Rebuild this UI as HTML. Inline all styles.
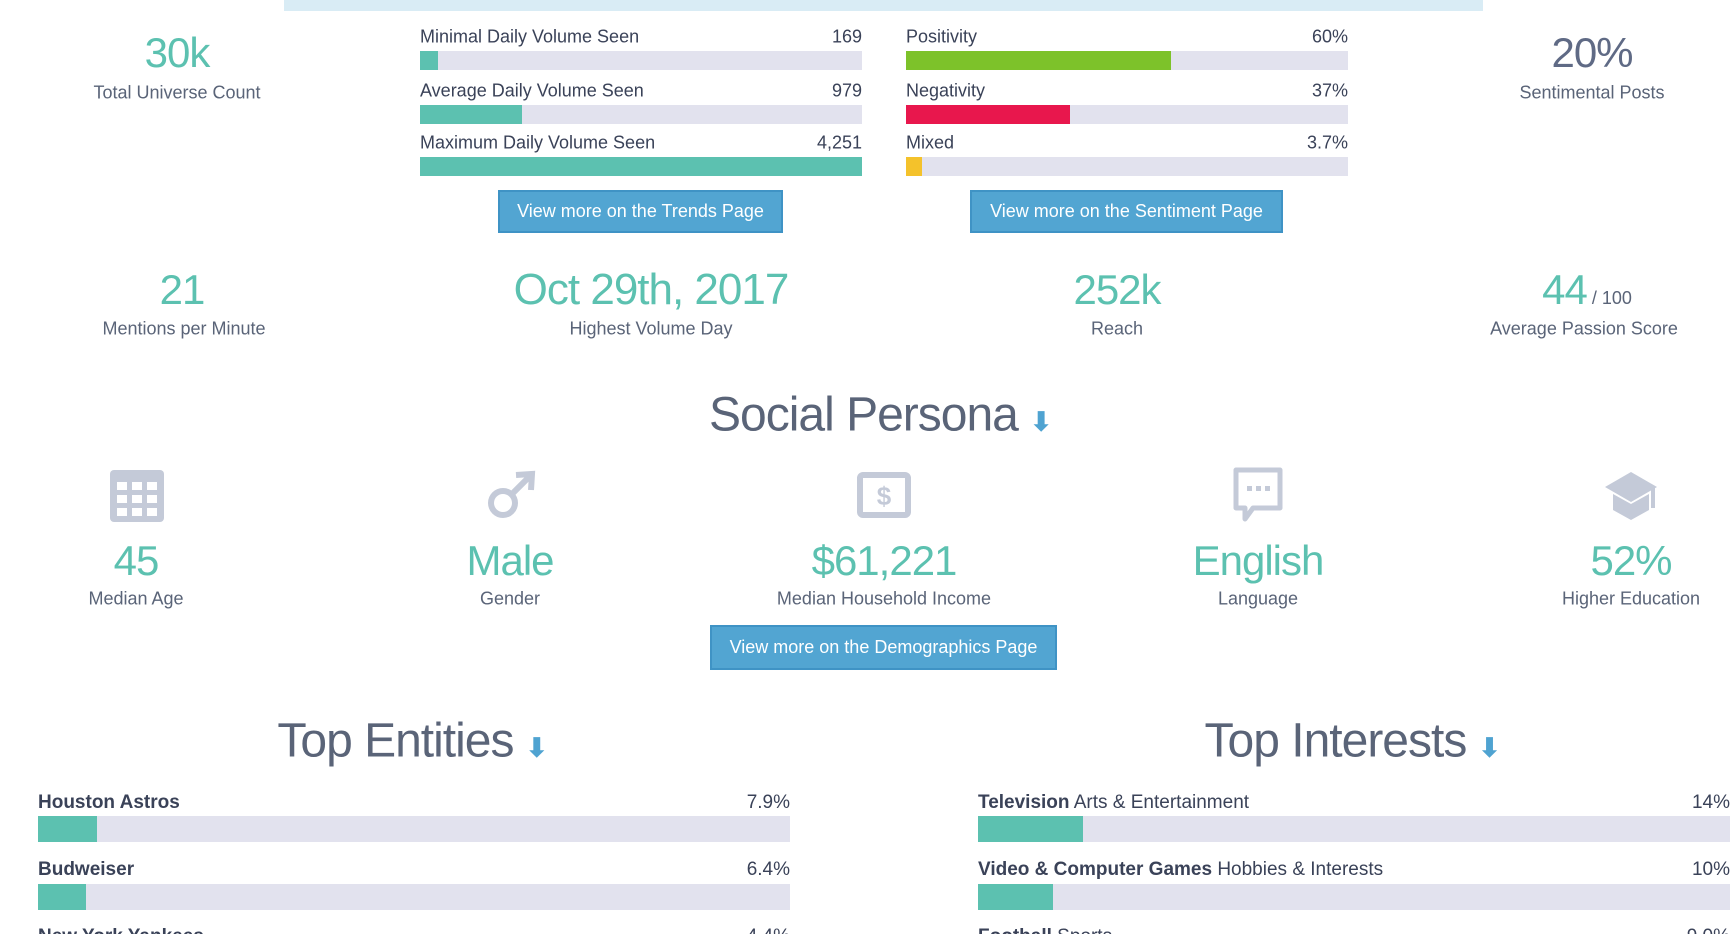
<!DOCTYPE html>
<html style="overflow:hidden;width:1734px;height:934px"><head><meta charset="utf-8"><style>
*{margin:0;padding:0;box-sizing:border-box}
html,body{width:1734px;height:934px;overflow:hidden;background:#fff}
body{font-family:"Liberation Sans",sans-serif;color:#5a6478}
#page{position:relative;width:1734px;height:934px;overflow:hidden}
.c{position:absolute;transform:translate(-50%,-50%);white-space:nowrap;text-align:center}
.big{color:#5cc1b0;font-size:42px;letter-spacing:-1px}
.lab{font-size:18px;color:#5a6478}
.t{position:absolute;white-space:nowrap;font-size:18px;color:#3a4258;transform:translateY(-50%)}
.r{position:absolute;white-space:nowrap;font-size:18px;color:#3a4258;transform:translate(-100%,-50%)}
.track{position:absolute;background:#e2e2ee}
.fill{position:absolute;left:0;top:0;height:100%}
.btn{position:absolute;background:#52a5d2;border:2px solid #3f93c5;color:#fff;font-size:18px;display:flex;align-items:center;justify-content:center}
.title{font-size:48px;font-weight:300;color:#5a6478;letter-spacing:-1px}
.dl{color:#4fa3d1;font-size:26px;font-weight:bold}
</style></head><body>
<div id="page">
<div style="position:absolute;left:284px;top:0;width:1199px;height:11px;background:#d9ecf5"></div>

<div class="c big" style="left:177px;top:53px">30k</div>
<div class="c lab" style="left:177px;top:93px">Total Universe Count</div>
<div class="c big" style="left:1592px;top:53px;color:#5f6a85">20%</div>
<div class="c lab" style="left:1592px;top:93px">Sentimental Posts</div>

<div id="vol"></div>
<div id="sent"></div>

<div class="btn" style="left:498px;top:190px;width:285px;height:43px">View more on the Trends Page</div>
<div class="btn" style="left:970px;top:190px;width:313px;height:43px">View more on the Sentiment Page</div>

<div class="c big" style="left:182px;top:290px">21</div>
<div class="c lab" style="left:184px;top:329px">Mentions per Minute</div>
<div class="c big" style="left:651px;top:290px;font-size:44px">Oct 29th, 2017</div>
<div class="c lab" style="left:651px;top:329px">Highest Volume Day</div>
<div class="c big" style="left:1117px;top:290px">252k</div>
<div class="c lab" style="left:1117px;top:329px">Reach</div>
<div class="c big" style="left:1587px;top:290px">44<span style="font-size:18px;color:#5a6478;letter-spacing:0"> / 100</span></div>
<div class="c lab" style="left:1584px;top:329px">Average Passion Score</div>

<div class="c title" style="left:880px;top:415px">Social Persona <span class="dl">&#11015;</span></div>

<svg style="position:absolute;left:110px;top:470px" width="54" height="52"><rect x="0" y="0" width="54" height="52" rx="4" fill="#c4cad8"/><g fill="#fff"><rect x="7" y="12" width="10" height="8"/><rect x="22" y="12" width="10" height="8"/><rect x="37" y="12" width="10" height="8"/><rect x="7" y="25" width="10" height="8"/><rect x="22" y="25" width="10" height="8"/><rect x="37" y="25" width="10" height="8"/><rect x="7" y="38" width="10" height="8"/><rect x="22" y="38" width="10" height="8"/><rect x="37" y="38" width="10" height="8"/></g></svg>
<svg style="position:absolute;left:486px;top:470px" width="50" height="50"><circle cx="17" cy="33" r="12" fill="none" stroke="#c4cad8" stroke-width="6"/><path d="M26 24 L44 6 M30 5 L46 4 L45 20" fill="none" stroke="#c4cad8" stroke-width="6"/></svg>
<svg style="position:absolute;left:857px;top:472px" width="54" height="46"><rect x="3" y="3" width="48" height="40" rx="3" fill="none" stroke="#c4cad8" stroke-width="6"/><text x="27" y="33" text-anchor="middle" font-size="26" font-weight="bold" fill="#c4cad8" font-family="Liberation Sans">$</text></svg>
<svg style="position:absolute;left:1231px;top:467px" width="54" height="56"><path d="M5 3 H49 V41 H22 L14 52 V41 H5 Z" fill="none" stroke="#c4cad8" stroke-width="5" stroke-linejoin="round"/><rect x="16" y="19" width="5" height="5" fill="#c4cad8"/><rect x="25" y="19" width="5" height="5" fill="#c4cad8"/><rect x="34" y="19" width="5" height="5" fill="#c4cad8"/></svg>
<svg style="position:absolute;left:1603px;top:470px" width="56" height="50"><path d="M2 17 L28 2 L54 17 L28 32 Z" fill="#c4cad8"/><path d="M10 24 V40 L28 50 L46 40 V24 L28 34 Z" fill="#c4cad8"/><rect x="48" y="16" width="4" height="22" fill="#c4cad8"/></svg>

<div class="c big" style="left:136px;top:561px">45</div>
<div class="c lab" style="left:136px;top:599px">Median Age</div>
<div class="c big" style="left:510px;top:561px">Male</div>
<div class="c lab" style="left:510px;top:599px">Gender</div>
<div class="c big" style="left:884px;top:561px">$61,221</div>
<div class="c lab" style="left:884px;top:599px">Median Household Income</div>
<div class="c big" style="left:1258px;top:561px">English</div>
<div class="c lab" style="left:1258px;top:599px">Language</div>
<div class="c big" style="left:1631px;top:561px">52%</div>
<div class="c lab" style="left:1631px;top:599px">Higher Education</div>

<div class="btn" style="left:710px;top:625px;width:347px;height:45px">View more on the Demographics Page</div>

<div class="c title" style="left:412px;top:741px">Top Entities <span class="dl">&#11015;</span></div>
<div class="c title" style="left:1352px;top:741px">Top Interests <span class="dl">&#11015;</span></div>

<div id="ent"></div>
<div id="int"></div>
</div>

<script>
const volLabels=["Minimal Daily Volume Seen","Average Daily Volume Seen","Maximum Daily Volume Seen"];
const volValues=[169,979,4251];
const volText=["169","979","4,251"];
const sentLabels=["Positivity","Negativity","Mixed"];
const sentValues=[60,37,3.7];
const sentText=["60%","37%","3.7%"];
const sentColors=["#7dc22a","#e8174d","#f4c22b"];
const entLabels=["Houston Astros","Budweiser","New York Yankees"];
const entValues=[7.9,6.4,4.4];
const entText=["7.9%","6.4%","4.4%"];
const intBold=["Television","Video & Computer Games","Football"];
const intCat=["Arts & Entertainment","Hobbies & Interests","Sports"];
const intValues=[14,10,9.0];
const intText=["14%","10%","9.0%"];

function mk(parent,cls,style,html){const e=document.createElement('div');if(cls)e.className=cls;e.setAttribute('style',style);if(html!==undefined)e.innerHTML=html;parent.appendChild(e);return e;}
const labelY=[37,91,143], barY=[51,105,157];
function bars(id,x,w,labels,vals,texts,max,colors,prefix){
  const p=document.getElementById(id);
  labels.forEach((l,i)=>{
    const a=mk(p,'t',`left:${x}px;top:${labelY[i]}px`,l);
    
    
    const v=mk(p,'r',`left:${x+w}px;top:${labelY[i]}px`,texts[i]);
    
    
    const tr=mk(p,'track',`left:${x}px;top:${barY[i]}px;width:${w}px;height:19px`);
    
    
    const f=mk(tr,'fill',`width:${vals[i]/max*w}px;background:${colors[i]}`);
    
    
  });
}
bars('vol',420,442,volLabels,volValues,volText,Math.max(...volValues),["#5cc1b0","#5cc1b0","#5cc1b0"],'volume');
bars('sent',906,442,sentLabels,sentValues,sentText,100,sentColors,'sentiment');

const lY=[803,870,937], bY=[816,884];
function list(id,x,w,labelsHtml,vals,texts,prefix){
  const p=document.getElementById(id);
  vals.forEach((v,i)=>{
    const a=mk(p,'t',`left:${x}px;top:${lY[i]}px;font-size:19px`,labelsHtml[i]);
    
    
    const r=mk(p,'r',`left:${x+w}px;top:${lY[i]}px;font-size:19px`,texts[i]);
    
    
    if(i<bY.length){
      const tr=mk(p,'track',`left:${x}px;top:${bY[i]}px;width:${w}px;height:26px`);
      
      
      const f=mk(tr,'fill',`width:${v/100*w}px;background:#5cc1b0`);
      
      
    }
  });
}
list('ent',38,752,entLabels.map(s=>'<b>'+s+'</b>'),entValues,entText,'entity');
list('int',978,752,intBold.map((b,i)=>'<b>'+b.replace('&','&amp;')+'</b> '+intCat[i].replace('&','&amp;')),intValues,intText,'interest');
</script>
</body></html>
